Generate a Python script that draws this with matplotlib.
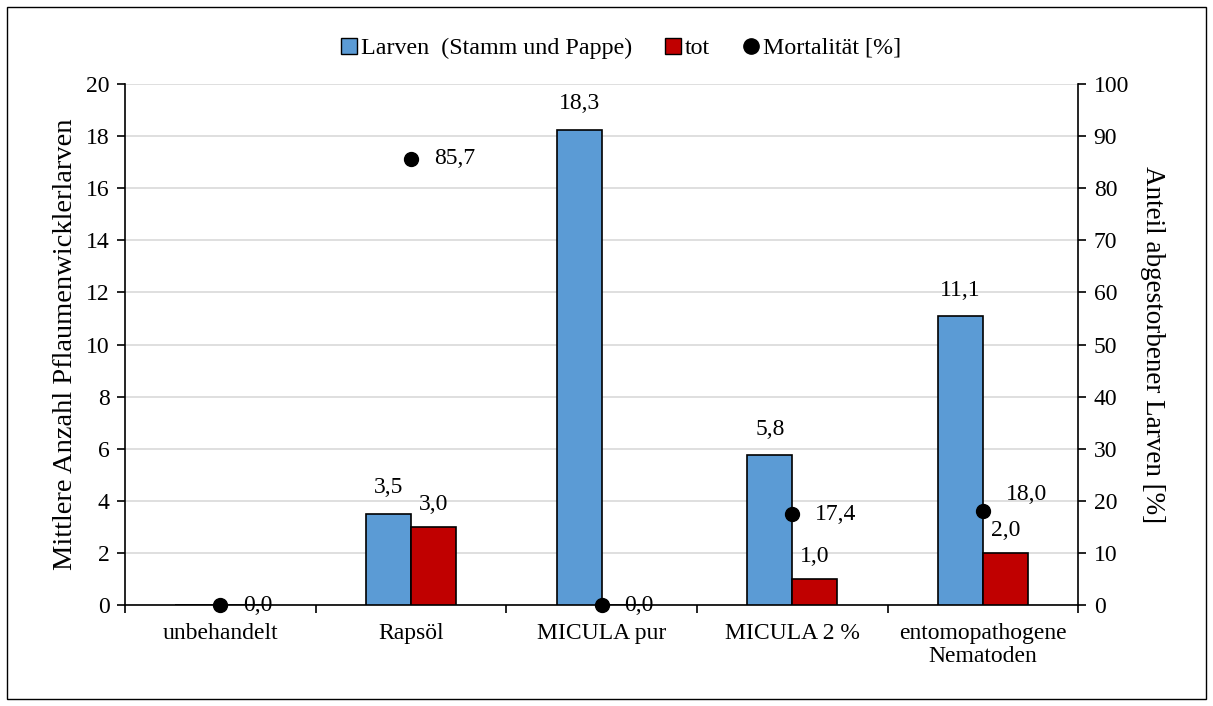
import numpy as np
import matplotlib.pyplot as plt
from matplotlib.patches import Rectangle
from matplotlib.lines import Line2D

plt.rcParams['font.family'] = ['Liberation Serif', 'DejaVu Serif']
plt.rcParams['font.size'] = 17

# data
kategorien = ['unbehandelt', 'Rapsöl', 'MICULA pur', 'MICULA 2 %', 'entomopathogene\nNematoden']
larven = [0.0, 3.5, 18.3, 5.8, 11.1]
larven_hoehe = [0.0, 3.5, 18.25, 5.75, 11.08]
tot = [0.0, 3.0, 0.0, 1.0, 2.0]
mortalitaet = [0.0, 85.7, 0.0, 17.4, 18.0]

blau = '#5B9BD5'
rot = '#C00000'

fig = plt.figure(figsize=(12.13, 7.06), dpi=100)
ax = fig.add_axes([0.103, 0.143, 0.786, 0.738])
ax2 = ax.twinx()

x = np.arange(len(kategorien))
w = 0.236

ax.bar(x - w / 2, larven_hoehe, w, color=blau, edgecolor='black', linewidth=1.2, zorder=3)
ax.bar(x + w / 2, tot, w, color=rot, edgecolor='black', linewidth=1.2, zorder=3)

for i in range(len(x)):
    if larven[i] > 0:
        ax.text(x[i] - w / 2, larven_hoehe[i] + 0.6, f'{larven[i]:.1f}'.replace('.', ','),
                ha='center', va='bottom', zorder=5)
    if tot[i] > 0:
        ax.text(x[i] + w / 2, tot[i] + 0.45, f'{tot[i]:.1f}'.replace('.', ','),
                ha='center', va='bottom', zorder=5)

ax2.plot(x, mortalitaet, 'o', color='black', markersize=10, zorder=6, clip_on=False)
# the last label sits a little higher in the original to clear the bar label
dy = [0, 0, 0, 0, 3.2]
for i in range(len(x)):
    ax2.text(x[i] + 0.12, mortalitaet[i] + dy[i], f'{mortalitaet[i]:.1f}'.replace('.', ','),
             ha='left', va='center', zorder=6)

ax.set_xlim(-0.5, len(x) - 0.5)
ax.set_ylim(0, 20)
ax2.set_ylim(0, 100)
ax.set_yticks(np.arange(0, 21, 2))
ax2.set_yticks(np.arange(0, 101, 10))
ax.yaxis.grid(True, color='#D9D9D9', linewidth=1.2, zorder=0)
ax.set_axisbelow(True)

ax.set_xticks(x)
ax.set_xticklabels(kategorien, linespacing=1.1)
ax.tick_params(axis='x', length=0, pad=13)
ax.set_xticks(np.arange(-0.5, len(x), 1), minor=True)
ax.tick_params(axis='x', which='minor', length=6, width=1.2, direction='out')
ax.tick_params(axis='y', length=6, width=1.2, direction='out', pad=5)
ax2.tick_params(axis='y', length=6, width=1.2, direction='out', pad=5)

for a in (ax, ax2):
    a.spines['top'].set_visible(False)
    for s in ('left', 'right', 'bottom'):
        a.spines[s].set_linewidth(1.2)
ax.spines['right'].set_visible(False)
ax2.spines['left'].set_visible(False)
ax2.spines['bottom'].set_visible(False)

ax.set_ylabel('Mittlere Anzahl Pflaumenwicklerlarven', fontsize=20.5, labelpad=6)
ax2.set_ylabel('Anteil abgestorbener Larven [%]', fontsize=19.5, rotation=270, labelpad=26)

handles = [
    Line2D([], [], marker='s', linestyle='none', markerfacecolor=blau, markeredgecolor='black', markersize=11),
    Line2D([], [], marker='s', linestyle='none', markerfacecolor=rot, markeredgecolor='black', markersize=11),
    Line2D([], [], marker='o', linestyle='none', color='black', markersize=11),
]
fig.legend(handles, ['Larven  (Stamm und Pappe)', 'tot', 'Mortalität [%]'],
           loc='center', bbox_to_anchor=(0.51, 0.932), ncol=3, frameon=False,
           handletextpad=0.0, columnspacing=1.2, handlelength=1.0, fontsize=17.3)

fig.patches.append(Rectangle((0.006, 0.01), 0.988, 0.98, transform=fig.transFigure,
                             fill=False, edgecolor='black', linewidth=1.0))

fig.savefig('out.png', dpi=100)
